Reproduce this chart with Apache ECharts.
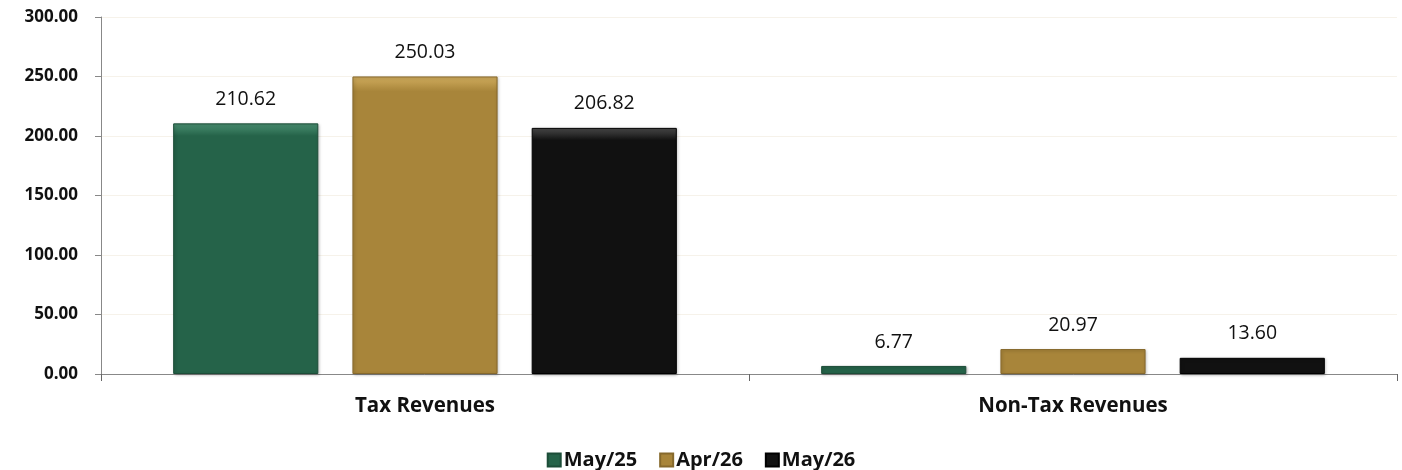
<!DOCTYPE html>
<html><head><meta charset="utf-8">
<script src="https://cdn.jsdelivr.net/npm/echarts@6/dist/echarts.min.js"></script>
<style>html,body{margin:0;padding:0;background:#fff}#c{width:1402px;height:470px}</style>
</head><body><div id="c"></div>
<script>
const categories = ['Tax Revenues', 'Non-Tax Revenues'];
const seriesNames = ['May/25', 'Apr/26', 'May/26'];
const may25 = [210.62, 6.77];
const apr26 = [250.03, 20.97];
const may26 = [206.82, 13.60];
const yTicks = [0, 50, 100, 150, 200, 250, 300];
const colors = ['#256349', '#a8853a', '#111111'];
const borders = ['#1c4d38', '#86692c', '#000000'];
const lights = ['#4a9072', '#d1ad5e', '#4a4a4a'];

const font = '"Open Sans", Lato, sans-serif';
const chart = echarts.init(document.getElementById('c'), null, {renderer: 'canvas'});
const values = [may25, apr26, may26];
chart.setOption({
  animation: false,
  grid: {left: 101, right: 5, top: 17, bottom: 96, containLabel: false},
  legend: {
    data: seriesNames, top: 445, left: 'center', itemWidth: 13, itemHeight: 13, itemGap: 22,
    icon: 'rect',
    textStyle: {fontFamily: font, fontWeight: 'bold', fontSize: 20, color: '#111', padding: [0, 0, 0, -2]}
  },
  xAxis: {
    type: 'category', data: categories,
    axisLine: {lineStyle: {color: '#888', width: 1}},
    axisTick: {show: true, length: 7, lineStyle: {color: '#666'}},
    axisLabel: {fontFamily: font, fontWeight: 'bold', fontSize: 20.5, color: '#111', margin: 22}
  },
  yAxis: {
    type: 'value', min: 0, max: 300, interval: 50,
    axisLine: {show: true, lineStyle: {color: '#888'}},
    axisTick: {show: true, length: 6, inside: false, lineStyle: {color: '#888'}},
    axisLabel: {fontFamily: font, fontWeight: 'bold', fontSize: 17, color: '#111', margin: 23,
      formatter: v => yTicks.includes(v) ? v.toFixed(2) : ''},
    splitLine: {show: true, lineStyle: {color: '#f6f2ea', width: 1}}
  },
  series: seriesNames.map((n, i) => ({
    name: n, type: 'bar', data: values[i],
    barWidth: '22.4%', barGap: '23.5%',
    itemStyle: {
      color: {type: 'linear', x: 0, y: 0, x2: 0, y2: 1, colorStops: [
        {offset: 0, color: lights[i]}, {offset: 0.05, color: colors[i]}, {offset: 1, color: colors[i]}]},
      borderColor: borders[i], borderWidth: 1,
      shadowColor: 'rgba(0,0,0,0.25)', shadowBlur: 3, shadowOffsetX: 1, shadowOffsetY: 1
    },
    label: {show: true, position: 'top', distance: 14, fontFamily: font, fontSize: 19.5, color: '#111',
      formatter: p => p.value.toFixed(2)}
  }))
});
</script></body></html>
